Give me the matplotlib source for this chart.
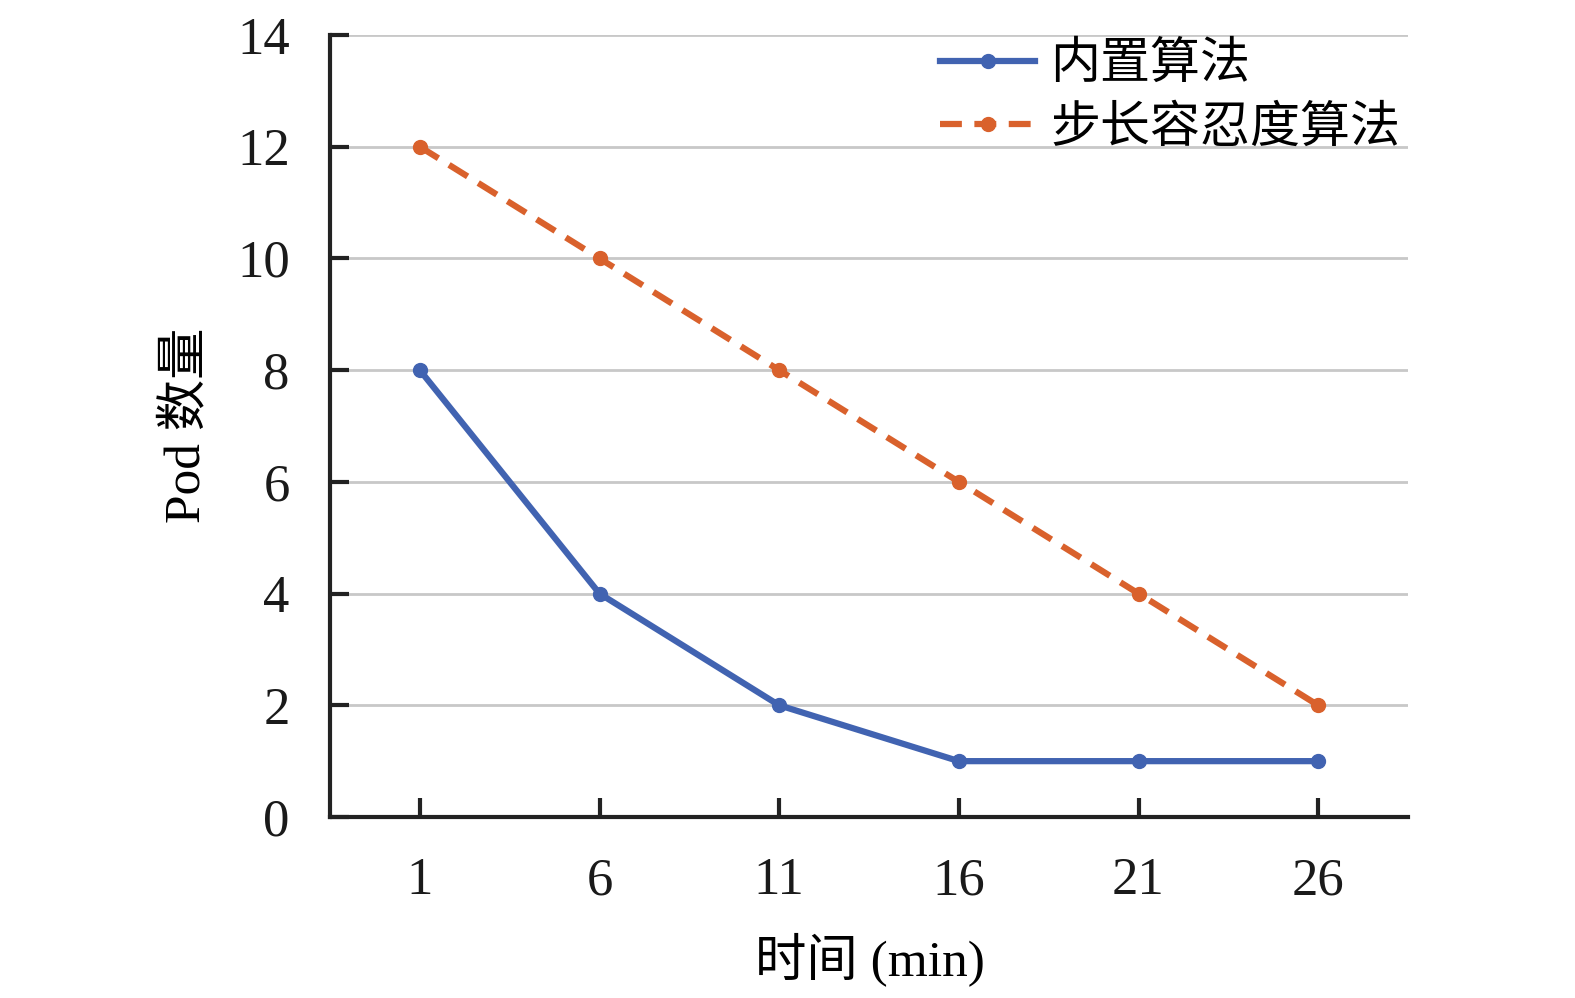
import numpy as np
import matplotlib
matplotlib.use('Agg')
import matplotlib.pyplot as plt

plt.rcParams['font.family'] = ['Liberation Serif', 'Noto Sans CJK SC']

# 数据
times = ['1', '6', '11', '16', '21', '26']
builtin = [8, 4, 2, 1, 1, 1]
step_tol = [12, 10, 8, 6, 4, 2]

fig = plt.figure(figsize=(15.75, 9.98), dpi=100)
ax = fig.add_axes([330 / 1575, 1 - 817 / 998, 1078 / 1575, 782 / 998])

x = np.arange(len(times))
ax.plot(x, builtin, color='#4163b1', lw=4.5, marker='o', ms=10, label='内置算法', zorder=3)
ax.plot(x, step_tol, color='#d9612c', lw=4.5, ls=(0, (3.5, 2)), marker='o', ms=10,
        label='步长容忍度算法', zorder=3)

ax.set_xlim(-0.5, 5.5)
ax.set_ylim(0, 14)
ax.set_xticks(x)
ax.set_xticklabels(times)
ax.set_yticks(range(0, 15, 2))
ax.yaxis.grid(True, color='#c8c8c8', lw=2)
ax.set_axisbelow(True)

for s in ['top', 'right']:
    ax.spines[s].set_visible(False)
for s in ['left', 'bottom']:
    ax.spines[s].set_linewidth(3)
    ax.spines[s].set_color('#222222')

ax.tick_params(axis='both', direction='in', length=14, width=3, colors='#222222',
               labelsize=38, labelcolor='#1a1a1a')
ax.tick_params(axis='x', pad=29)
ax.tick_params(axis='y', pad=29)

ax.set_xlabel('时间 (min)', fontsize=37)
ax.set_ylabel('Pod 数量', fontsize=37)
ax.xaxis.set_label_coords(0.501, -0.148)
ax.yaxis.set_label_coords(-0.111, 0.501)

ax.legend(loc='upper left', bbox_to_anchor=(0.566, 0.99), frameon=False, fontsize=36,
          handlelength=1.9, handletextpad=0.3, labelspacing=0.34, borderaxespad=0,
          borderpad=0)

fig.savefig('out.png', dpi=100)
